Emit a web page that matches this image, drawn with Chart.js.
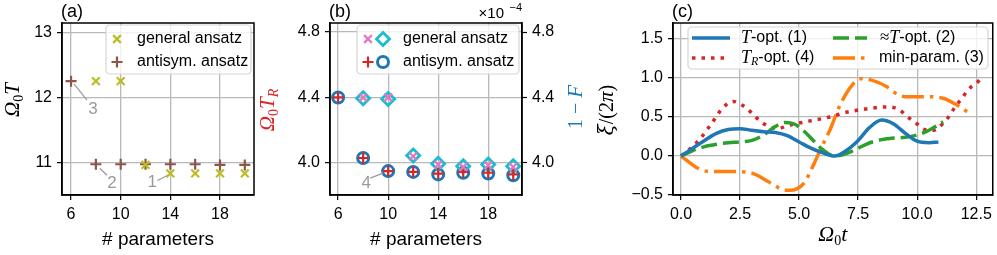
<!DOCTYPE html>
<html>
<head>
<meta charset="utf-8">
<script src="https://cdn.jsdelivr.net/npm/chart.js@4.4.0/dist/chart.umd.min.js"></script>
<style>
    body { margin: 0; background: #fff; }
    #wrap { position: relative; width: 997px; height: 255px; }
    #wrap canvas { position: absolute; left: 0; top: 0; }
</style>
</head>
<body>
<div id="wrap">
    <canvas id="chartA" width="997" height="255"></canvas>
    <canvas id="chartB" width="997" height="255"></canvas>
    <canvas id="chartC" width="997" height="255"></canvas>
</div>
<script>
"use strict";

// ---- data ----
const paramCounts = [6, 8, 10, 12, 14, 16, 18, 20];

// (a) Omega_0 T
const generalT = [null, 12.25, 12.25, 10.97, 10.84, 10.84, 10.84, 10.84];
const antisymT = [12.25, 10.98, 10.98, 10.98, 10.98, 10.98, 10.97, 10.97];

// (b) Omega_0 T_R (crosses) and 1-F in 1e-4 (open markers)
const generalTR    = [null, 4.40, 4.40, 4.04, 3.99, 3.975, 3.985, 3.975];
const generalInfid = [null, 4.395, 4.39, 4.045, 3.995, 3.98, 3.99, 3.98];
const antisymTR    = [4.40, 4.03, 3.95, 3.945, 3.935, 3.945, 3.94, 3.93];
const antisymInfid = [4.40, 4.03, 3.95, 3.945, 3.93, 3.94, 3.935, 3.925];

const xTicksAB = [6, 10, 14, 18];
const yTicksA = [11, 12, 13];
const yTicksB = [4.0, 4.4, 4.8];

// (c) xi/(2 pi) vs Omega_0 t
const tOptT  = [0, 0.5, 1, 1.5, 2, 2.5, 3, 3.5, 4, 4.5, 5, 5.5, 6, 6.5, 7, 7.5, 8, 8.5, 9, 9.5, 10, 10.5, 10.9];
const tOptXi = [0, 0.1, 0.2, 0.29, 0.34, 0.35, 0.33, 0.31, 0.3, 0.26, 0.18, 0.1, 0.04, 0.0, 0.07, 0.2, 0.37, 0.46, 0.41, 0.29, 0.19, 0.17, 0.18];

const approxT  = [0, 0.5, 1, 1.5, 2, 2.5, 3, 3.5, 4, 4.4, 4.8, 5.2, 5.6, 6, 6.5, 7, 7.5, 8, 8.5, 9, 9.5, 10, 10.5, 11.1];
const approxXi = [0, 0.07, 0.12, 0.15, 0.17, 0.18, 0.2, 0.27, 0.38, 0.43, 0.41, 0.32, 0.2, 0.08, 0.0, 0.03, 0.1, 0.17, 0.21, 0.23, 0.24, 0.27, 0.33, 0.44];

const trOptT  = [0, 0.4, 0.75, 1.3, 1.75, 2.2, 2.6, 3.0, 3.3, 3.7, 4.1, 4.5, 5.3, 6.3, 7.0, 8.0, 8.8, 9.25, 9.6, 10.0, 10.3, 10.7, 11.1, 11.4, 11.6, 11.9, 12.15, 12.5, 12.8];
const trOptXi = [0, 0.1, 0.2, 0.42, 0.61, 0.70, 0.65, 0.55, 0.46, 0.38, 0.35, 0.39, 0.44, 0.50, 0.56, 0.61, 0.63, 0.59, 0.50, 0.41, 0.34, 0.33, 0.42, 0.53, 0.63, 0.74, 0.85, 0.93, 1.02];

const minParT  = [0, 0.8, 1.3, 2.2, 3.0, 3.7, 4.3, 4.6, 5.2, 5.6, 5.9, 6.3, 6.7, 7.1, 7.6, 8.1, 8.7, 9.0, 9.5, 10.4, 11.1, 11.7, 12.2];
const minParXi = [0, -0.17, -0.2, -0.2, -0.22, -0.33, -0.43, -0.44, -0.35, -0.12, 0.08, 0.33, 0.63, 0.85, 0.99, 0.97, 0.89, 0.82, 0.76, 0.76, 0.74, 0.65, 0.55];

const xTicksC = [0, 2.5, 5, 7.5, 10, 12.5];
const yTicksC = [-0.5, 0, 0.5, 1.0, 1.5];

// ---- styling helpers ----
const SANS = "'Liberation Sans', Arial, sans-serif";
const SERIF = "'Liberation Serif', 'DejaVu Serif', serif";
const GRID = '#b9b9b9';
const ANNO = '#9a9a9a';
const TICK_PX = 16;

const pts = (xs, ys) => xs.map((x, i) => ({x: x, y: ys[i]})).filter(p => p.y !== null);
const minus = s => s.replace('-', '\u2212');

const makeAxis = (min, max, ticks, fmt, size, extra) => {
    let axis = {
        type: 'linear',
        min: min,
        max: max,
        afterBuildTicks: scale => { scale.ticks = ticks.map(v => ({value: v})); },
        grid: {color: GRID, lineWidth: 1.3, tickColor: '#000', tickLength: 5, tickWidth: 1.2},
        border: {color: '#000', width: 1.5},
        ticks: {color: '#000', font: {family: SANS, size: TICK_PX}, padding: 5, maxRotation: 0, autoSkip: false, callback: fmt}
    };
    if (size.width) axis.afterFit = scale => { scale.width = size.width; };
    if (size.height) axis.afterFit = scale => { scale.height = size.height; };
    return Object.assign(axis, extra || {});
};

// draws text made of pieces [text, font, dy], centred on x (optionally rotated)
const mathText = (ctx, parts, x, y, rot, color) => {
    ctx.save();
    ctx.translate(x, y);
    if (rot) ctx.rotate(rot);
    let w = 0;
    parts.forEach(p => { ctx.font = p[1]; w += ctx.measureText(p[0]).width; });
    let cx = -w / 2;
    ctx.textBaseline = 'alphabetic';
    ctx.fillStyle = color || '#000';
    parts.forEach(p => {
        ctx.font = p[1];
        ctx.fillText(p[0], cx, p[2] || 0);
        cx += ctx.measureText(p[0]).width;
    });
    ctx.restore();
};

const leftText = (ctx, parts, x, y) => {
    ctx.save();
    ctx.textBaseline = 'middle';
    ctx.fillStyle = '#000';
    let cx = x;
    parts.forEach(p => {
        ctx.font = p[1];
        ctx.fillText(p[0], cx, y + (p[2] || 0));
        cx += ctx.measureText(p[0]).width;
    });
    ctx.restore();
};

const marker = (ctx, style, x, y, r, color, lw) => {
    ctx.save();
    ctx.strokeStyle = color;
    ctx.lineWidth = lw;
    ctx.beginPath();
    if (style === 'cross') {
        ctx.moveTo(x - r, y); ctx.lineTo(x + r, y);
        ctx.moveTo(x, y - r); ctx.lineTo(x, y + r);
    } else if (style === 'crossRot') {
        let d = r * Math.SQRT1_2;
        ctx.moveTo(x - d, y - d); ctx.lineTo(x + d, y + d);
        ctx.moveTo(x - d, y + d); ctx.lineTo(x + d, y - d);
    } else if (style === 'rectRot') {
        ctx.moveTo(x - r, y); ctx.lineTo(x, y - r); ctx.lineTo(x + r, y); ctx.lineTo(x, y + r); ctx.closePath();
    } else {
        ctx.arc(x, y, r, 0, Math.PI * 2);
    }
    ctx.stroke();
    ctx.restore();
};

const legendBox = (ctx, x, y, w, h) => {
    ctx.save();
    ctx.fillStyle = 'rgba(255,255,255,0.8)';
    ctx.strokeStyle = '#d5d5d5';
    ctx.lineWidth = 1.2;
    ctx.beginPath();
    ctx.roundRect(x, y, w, h, 4);
    ctx.fill();
    ctx.stroke();
    ctx.restore();
};

const frame = (chart) => {
    let ctx = chart.ctx, a = chart.chartArea;
    ctx.save();
    ctx.strokeStyle = '#000';
    ctx.lineWidth = 1.5;
    ctx.strokeRect(a.left, a.top, a.right - a.left, a.bottom - a.top);
    ctx.restore();
};

// annotation: gray number with a short leader line, offsets from a data point
const annotate = (chart, yId, px, py, label, l0, l1, lp) => {
    let ctx = chart.ctx;
    let x = chart.scales.x.getPixelForValue(px);
    let y = chart.scales[yId].getPixelForValue(py);
    ctx.save();
    ctx.strokeStyle = ANNO;
    ctx.lineWidth = 1.2;
    ctx.beginPath();
    ctx.moveTo(x + l0[0], y + l0[1]);
    ctx.lineTo(x + l1[0], y + l1[1]);
    ctx.stroke();
    ctx.fillStyle = ANNO;
    ctx.font = '17px ' + SANS;
    ctx.textAlign = 'center';
    ctx.textBaseline = 'middle';
    ctx.fillText(label, x + lp[0], y + lp[1]);
    ctx.restore();
};

const panelLetter = (ctx, txt, x) => {
    ctx.save();
    ctx.font = '18px ' + SANS;
    ctx.fillStyle = '#000';
    ctx.textBaseline = 'alphabetic';
    ctx.fillText(txt, x - 1, 17);
    ctx.restore();
};

const ital = (px) => 'italic ' + px + 'px ' + SERIF;
const LEG = '16px ' + SANS;
const XT = '19px ' + SANS;

// ---- (a) ----
new Chart(document.getElementById('chartA'), {
    type: 'scatter',
    data: {
        datasets: [{
            data: pts(paramCounts, generalT),
            pointStyle: 'crossRot', pointRadius: 5.5, pointBorderWidth: 2.2,
            borderColor: '#bcbd22', backgroundColor: '#bcbd22'
        }, {
            data: pts(paramCounts, antisymT),
            pointStyle: 'cross', pointRadius: 5.5, pointBorderWidth: 2.2,
            borderColor: '#8c564b', backgroundColor: '#8c564b'
        }]
    },
    options: {
        responsive: false, animation: false, events: [],
        layout: {padding: {left: 0, right: 743, top: 23, bottom: 0}},
        plugins: {legend: {display: false}, tooltip: {enabled: false}},
        scales: {
            x: makeAxis(5.27, 20.74, xTicksAB, v => String(v), {height: 60}),
            y: makeAxis(10.51, 13.14, yTicksA, v => String(v), {width: 62})
        }
    },
    plugins: [{
        id: 'decorA',
        afterDraw(chart) {
            let ctx = chart.ctx, a = chart.chartArea;
            frame(chart);
            annotate(chart, 'y', 6, 12.25, '3', [3, 3], [16, 19], [22, 28]);
            annotate(chart, 'y', 8, 10.98, '2', [4, 4], [11, 11], [16, 19]);
            annotate(chart, 'y', 14, 10.84, '1', [-13, 7], [-3, 2], [-18, 9]);
            legendBox(ctx, a.left + 44, a.top + 2, 145, 49);
            marker(ctx, 'crossRot', a.left + 55, a.top + 16, 5.5, '#bcbd22', 2.2);
            marker(ctx, 'cross', a.left + 55, a.top + 39, 5.5, '#8c564b', 2.2);
            leftText(ctx, [['general ansatz', LEG]], a.left + 75, a.top + 16);
            leftText(ctx, [['antisym. ansatz', LEG]], a.left + 75, a.top + 39);
            panelLetter(ctx, '(a)', a.left);
            mathText(ctx, [['# parameters', XT]], (a.left + a.right) / 2, 245);
            mathText(ctx, [['\u03A9', ital(21)], ['0', '14px ' + SERIF, 4], ['T', ital(21)]], 19, 100, -Math.PI / 2);
        }
    }]
});

// ---- (b) ----
new Chart(document.getElementById('chartB'), {
    type: 'scatter',
    data: {
        datasets: [{
            data: pts(paramCounts, generalTR), yAxisID: 'y',
            pointStyle: 'crossRot', pointRadius: 5.5, pointBorderWidth: 2.2,
            borderColor: '#e377c2', backgroundColor: '#e377c2'
        }, {
            data: pts(paramCounts, antisymTR), yAxisID: 'y',
            pointStyle: 'cross', pointRadius: 5.5, pointBorderWidth: 2.2,
            borderColor: '#d62728', backgroundColor: '#d62728'
        }, {
            data: pts(paramCounts, generalInfid), yAxisID: 'y1',
            pointStyle: 'rectRot', pointRadius: 6.5, pointBorderWidth: 2.8,
            borderColor: '#17becf', backgroundColor: 'rgba(0,0,0,0)'
        }, {
            data: pts(paramCounts, antisymInfid), yAxisID: 'y1',
            pointStyle: 'circle', pointRadius: 5.5, pointBorderWidth: 3,
            borderColor: '#1f77b4', backgroundColor: 'rgba(0,0,0,0)'
        }]
    },
    options: {
        responsive: false, animation: false, events: [],
        layout: {padding: {left: 260, right: 415, top: 23, bottom: 0}},
        plugins: {legend: {display: false}, tooltip: {enabled: false}},
        scales: {
            x: makeAxis(5.35, 20.7, xTicksAB, v => String(v), {height: 60}),
            y: makeAxis(3.804, 4.855, yTicksB, v => v.toFixed(1), {width: 70}),
            y1: makeAxis(3.804, 4.855, yTicksB, v => v.toFixed(1), {width: 60},
                {position: 'right', grid: {drawOnChartArea: false, tickColor: '#000', tickLength: 5, tickWidth: 1.2}})
        }
    },
    plugins: [{
        id: 'decorB',
        afterDraw(chart) {
            let ctx = chart.ctx, a = chart.chartArea;
            frame(chart);
            annotate(chart, 'y1', 10, 3.95, '4', [-18, 7], [-5, 2], [-22, 12]);
            legendBox(ctx, a.left + 27, a.top + 2, 162, 49);
            marker(ctx, 'crossRot', a.left + 38, a.top + 16, 5.5, '#e377c2', 2.2);
            marker(ctx, 'rectRot', a.left + 53, a.top + 16, 6.5, '#17becf', 2.8);
            marker(ctx, 'cross', a.left + 38, a.top + 39, 5.5, '#d62728', 2.2);
            marker(ctx, 'circle', a.left + 53, a.top + 39, 5.5, '#1f77b4', 3);
            leftText(ctx, [['general ansatz', LEG]], a.left + 73, a.top + 16);
            leftText(ctx, [['antisym. ansatz', LEG]], a.left + 73, a.top + 39);
            panelLetter(ctx, '(b)', a.left);
            mathText(ctx, [['# parameters', XT]], (a.left + a.right) / 2, 245);
            mathText(ctx, [['\u03A9', ital(21)], ['0', '14px ' + SERIF, 4], ['T', ital(21)], ['R', ital(14), 4]],
                a.left - 56, 110, -Math.PI / 2, '#d62728');
            mathText(ctx, [['1 \u2212 ', '20px ' + SERIF], ['F', ital(21)]], a.right + 60, 107, -Math.PI / 2, '#1f77b4');
            // offset text of the right axis
            ctx.save();
            ctx.fillStyle = '#000';
            ctx.font = '15px ' + SANS;
            ctx.textAlign = 'right';
            ctx.fillText('\u00D710', a.right - 18, 18);
            ctx.font = '11px ' + SANS;
            ctx.fillText('\u22124', a.right, 11);
            ctx.restore();
        }
    }]
});

// ---- (c) ----
new Chart(document.getElementById('chartC'), {
    type: 'line',
    data: {
        datasets: [{
            data: pts(tOptT, tOptXi), borderColor: '#1f77b4', borderWidth: 3.5
        }, {
            data: pts(approxT, approxXi), borderColor: '#2ca02c', borderWidth: 3.5, borderDash: [16, 6]
        }, {
            data: pts(trOptT, trOptXi), borderColor: '#d62728', borderWidth: 3.5, borderDash: [3.5, 6]
        }, {
            data: pts(minParT, minParXi), borderColor: '#ff7f0e', borderWidth: 3.5, borderDash: [22, 6, 3.5, 6]
        }]
    },
    options: {
        responsive: false, animation: false, events: [],
        layout: {padding: {left: 600, right: 4, top: 23, bottom: 0}},
        elements: {point: {radius: 0}, line: {cubicInterpolationMode: 'monotone', fill: false, borderCapStyle: 'butt'}},
        plugins: {legend: {display: false}, tooltip: {enabled: false}},
        scales: {
            x: makeAxis(-0.34, 13.2, xTicksC, v => v.toFixed(1), {height: 60}),
            y: makeAxis(-0.5, 1.705, yTicksC, v => minus(v.toFixed(1)), {width: 73})
        }
    },
    plugins: [{
        id: 'decorC',
        afterDraw(chart) {
            let ctx = chart.ctx, a = chart.chartArea;
            frame(chart);
            legendBox(ctx, a.left + 15, a.top + 4, 300, 42);
            let r1 = a.top + 15, r2 = a.top + 35;
            let seg = (x0, x1, y, color, dash) => {
                ctx.save();
                ctx.strokeStyle = color; ctx.lineWidth = 3.5; ctx.setLineDash(dash);
                ctx.beginPath(); ctx.moveTo(x0, y); ctx.lineTo(x1, y); ctx.stroke();
                ctx.restore();
            };
            seg(a.left + 19, a.left + 57, r1, '#1f77b4', []);
            seg(a.left + 19, a.left + 57, r2, '#d62728', [3.5, 6]);
            seg(a.left + 160, a.left + 194, r1, '#2ca02c', [16, 6]);
            seg(a.left + 160, a.left + 194, r2, '#ff7f0e', [22, 6, 3.5, 6]);
            leftText(ctx, [['T', ital(18)], ['-opt. (1)', LEG]], a.left + 68, r1);
            leftText(ctx, [['T', ital(18)], ['R', ital(12), 4], ['-opt. (4)', LEG]], a.left + 68, r2);
            leftText(ctx, [['\u2248', '17px ' + SERIF], ['T', ital(18)], ['-opt. (2)', LEG]], a.left + 207, r1);
            leftText(ctx, [['min-param. (3)', LEG]], a.left + 206, r2);
            panelLetter(ctx, '(c)', a.left);
            mathText(ctx, [['\u03A9', ital(22)], ['0', '14px ' + SERIF, 4], ['t', ital(22)]], (a.left + a.right) / 2, 241);
            mathText(ctx, [['\u03BE', "italic 20px 'DejaVu Serif', serif"], ['/(2', '20px ' + SERIF], ['\u03C0', ital(21)], [')', '20px ' + SERIF]],
                a.left - 60, 110, -Math.PI / 2);
        }
    }]
});
</script>
</body>
</html>
